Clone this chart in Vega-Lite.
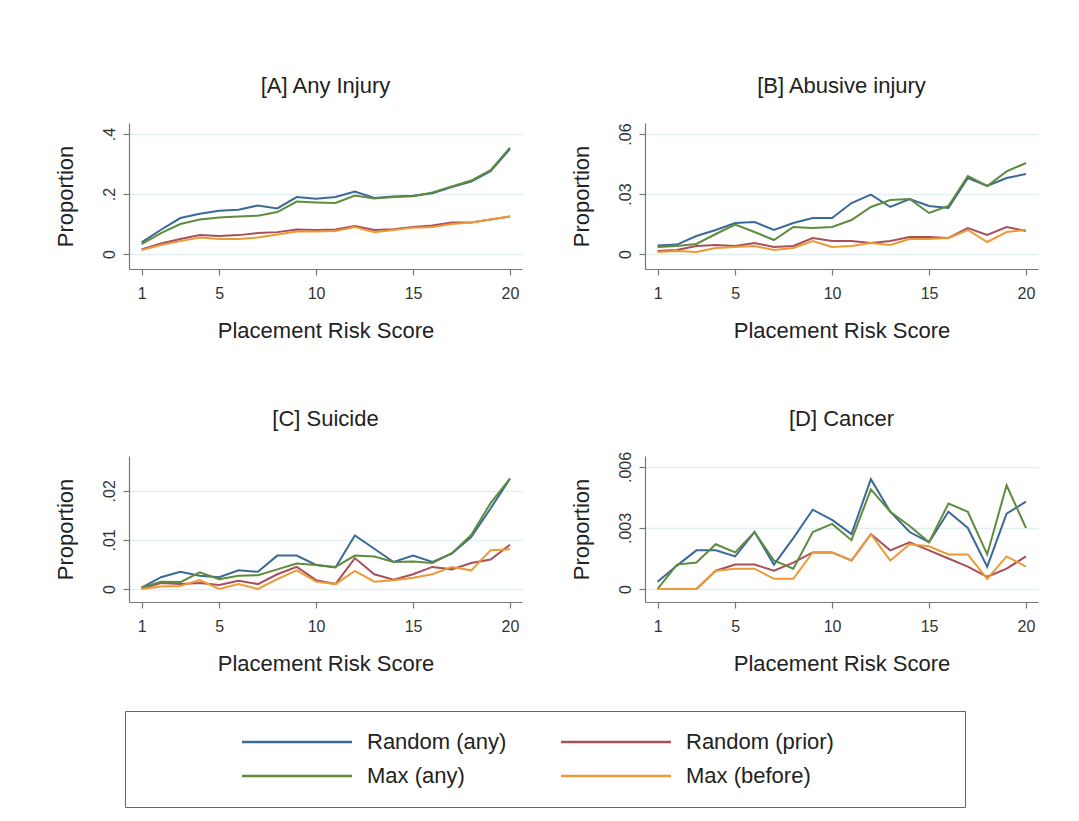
{
  "$schema": "https://vega.github.io/schema/vega-lite/v6.json",
  "padding": {"left": 54, "top": 74, "right": 5, "bottom": 5},
  "background": "white",
  "datasets": {
    "d": [
      {"p":"A","s":1,"Random (any)":0.039,"Random (prior)":0.015,"Max (any)":0.033,"Max (before)":0.013},
      {"p":"A","s":2,"Random (any)":0.081,"Random (prior)":0.035,"Max (any)":0.07,"Max (before)":0.03},
      {"p":"A","s":3,"Random (any)":0.12,"Random (prior)":0.05,"Max (any)":0.1,"Max (before)":0.043},
      {"p":"A","s":4,"Random (any)":0.134,"Random (prior)":0.063,"Max (any)":0.115,"Max (before)":0.055},
      {"p":"A","s":5,"Random (any)":0.144,"Random (prior)":0.06,"Max (any)":0.122,"Max (before)":0.05},
      {"p":"A","s":6,"Random (any)":0.148,"Random (prior)":0.063,"Max (any)":0.125,"Max (before)":0.05},
      {"p":"A","s":7,"Random (any)":0.162,"Random (prior)":0.07,"Max (any)":0.128,"Max (before)":0.055},
      {"p":"A","s":8,"Random (any)":0.152,"Random (prior)":0.073,"Max (any)":0.14,"Max (before)":0.065},
      {"p":"A","s":9,"Random (any)":0.19,"Random (prior)":0.082,"Max (any)":0.175,"Max (before)":0.075},
      {"p":"A","s":10,"Random (any)":0.184,"Random (prior)":0.08,"Max (any)":0.172,"Max (before)":0.075},
      {"p":"A","s":11,"Random (any)":0.19,"Random (prior)":0.082,"Max (any)":0.17,"Max (before)":0.077},
      {"p":"A","s":12,"Random (any)":0.208,"Random (prior)":0.093,"Max (any)":0.195,"Max (before)":0.09},
      {"p":"A","s":13,"Random (any)":0.187,"Random (prior)":0.08,"Max (any)":0.185,"Max (before)":0.073},
      {"p":"A","s":14,"Random (any)":0.192,"Random (prior)":0.083,"Max (any)":0.19,"Max (before)":0.08},
      {"p":"A","s":15,"Random (any)":0.194,"Random (prior)":0.09,"Max (any)":0.193,"Max (before)":0.088},
      {"p":"A","s":16,"Random (any)":0.203,"Random (prior)":0.095,"Max (any)":0.205,"Max (before)":0.09},
      {"p":"A","s":17,"Random (any)":0.223,"Random (prior)":0.105,"Max (any)":0.225,"Max (before)":0.1},
      {"p":"A","s":18,"Random (any)":0.242,"Random (prior)":0.105,"Max (any)":0.245,"Max (before)":0.105},
      {"p":"A","s":19,"Random (any)":0.276,"Random (prior)":0.115,"Max (any)":0.28,"Max (before)":0.115},
      {"p":"A","s":20,"Random (any)":0.35,"Random (prior)":0.125,"Max (any)":0.355,"Max (before)":0.125},
      {"p":"B","s":1,"Random (any)":0.0042,"Random (prior)":0.0015,"Max (any)":0.0035,"Max (before)":0.001},
      {"p":"B","s":2,"Random (any)":0.0047,"Random (prior)":0.002,"Max (any)":0.004,"Max (before)":0.0015},
      {"p":"B","s":3,"Random (any)":0.009,"Random (prior)":0.004,"Max (any)":0.005,"Max (before)":0.001},
      {"p":"B","s":4,"Random (any)":0.012,"Random (prior)":0.0045,"Max (any)":0.01,"Max (before)":0.003},
      {"p":"B","s":5,"Random (any)":0.0155,"Random (prior)":0.004,"Max (any)":0.0147,"Max (before)":0.0035},
      {"p":"B","s":6,"Random (any)":0.016,"Random (prior)":0.0055,"Max (any)":0.011,"Max (before)":0.004},
      {"p":"B","s":7,"Random (any)":0.012,"Random (prior)":0.0035,"Max (any)":0.007,"Max (before)":0.002},
      {"p":"B","s":8,"Random (any)":0.0155,"Random (prior)":0.004,"Max (any)":0.0135,"Max (before)":0.003},
      {"p":"B","s":9,"Random (any)":0.018,"Random (prior)":0.008,"Max (any)":0.013,"Max (before)":0.0065},
      {"p":"B","s":10,"Random (any)":0.018,"Random (prior)":0.0065,"Max (any)":0.0135,"Max (before)":0.0035},
      {"p":"B","s":11,"Random (any)":0.0255,"Random (prior)":0.0065,"Max (any)":0.017,"Max (before)":0.004},
      {"p":"B","s":12,"Random (any)":0.0297,"Random (prior)":0.0055,"Max (any)":0.0235,"Max (before)":0.0055},
      {"p":"B","s":13,"Random (any)":0.0235,"Random (prior)":0.0065,"Max (any)":0.027,"Max (before)":0.0045},
      {"p":"B","s":14,"Random (any)":0.0275,"Random (prior)":0.0085,"Max (any)":0.0275,"Max (before)":0.0075},
      {"p":"B","s":15,"Random (any)":0.024,"Random (prior)":0.0085,"Max (any)":0.0205,"Max (before)":0.0075},
      {"p":"B","s":16,"Random (any)":0.023,"Random (prior)":0.008,"Max (any)":0.024,"Max (before)":0.008},
      {"p":"B","s":17,"Random (any)":0.038,"Random (prior)":0.013,"Max (any)":0.039,"Max (before)":0.012},
      {"p":"B","s":18,"Random (any)":0.034,"Random (prior)":0.0095,"Max (any)":0.034,"Max (before)":0.006},
      {"p":"B","s":19,"Random (any)":0.038,"Random (prior)":0.0135,"Max (any)":0.0413,"Max (before)":0.011},
      {"p":"B","s":20,"Random (any)":0.04,"Random (prior)":0.0115,"Max (any)":0.0455,"Max (before)":0.012},
      {"p":"C","s":1,"Random (any)":0.0003,"Random (prior)":0.0001,"Max (any)":0.0003,"Max (before)":0.0},
      {"p":"C","s":2,"Random (any)":0.0024,"Random (prior)":0.0012,"Max (any)":0.0015,"Max (before)":0.0005},
      {"p":"C","s":3,"Random (any)":0.0035,"Random (prior)":0.001,"Max (any)":0.0014,"Max (before)":0.0006},
      {"p":"C","s":4,"Random (any)":0.0027,"Random (prior)":0.0012,"Max (any)":0.0034,"Max (before)":0.0018},
      {"p":"C","s":5,"Random (any)":0.0024,"Random (prior)":0.0008,"Max (any)":0.002,"Max (before)":0.0},
      {"p":"C","s":6,"Random (any)":0.0038,"Random (prior)":0.0017,"Max (any)":0.0027,"Max (before)":0.001},
      {"p":"C","s":7,"Random (any)":0.0035,"Random (prior)":0.001,"Max (any)":0.0028,"Max (before)":0.0},
      {"p":"C","s":8,"Random (any)":0.0068,"Random (prior)":0.003,"Max (any)":0.004,"Max (before)":0.002},
      {"p":"C","s":9,"Random (any)":0.0068,"Random (prior)":0.0045,"Max (any)":0.0052,"Max (before)":0.0038},
      {"p":"C","s":10,"Random (any)":0.0049,"Random (prior)":0.0018,"Max (any)":0.0049,"Max (before)":0.0015},
      {"p":"C","s":11,"Random (any)":0.0044,"Random (prior)":0.001,"Max (any)":0.0045,"Max (before)":0.001},
      {"p":"C","s":12,"Random (any)":0.0109,"Random (prior)":0.0063,"Max (any)":0.0068,"Max (before)":0.0037},
      {"p":"C","s":13,"Random (any)":0.0082,"Random (prior)":0.003,"Max (any)":0.0066,"Max (before)":0.0015},
      {"p":"C","s":14,"Random (any)":0.0055,"Random (prior)":0.0019,"Max (any)":0.0055,"Max (before)":0.0018},
      {"p":"C","s":15,"Random (any)":0.0068,"Random (prior)":0.003,"Max (any)":0.0056,"Max (before)":0.0023},
      {"p":"C","s":16,"Random (any)":0.0055,"Random (prior)":0.0045,"Max (any)":0.0053,"Max (before)":0.003},
      {"p":"C","s":17,"Random (any)":0.0072,"Random (prior)":0.004,"Max (any)":0.0073,"Max (before)":0.0045},
      {"p":"C","s":18,"Random (any)":0.0106,"Random (prior)":0.0053,"Max (any)":0.011,"Max (before)":0.0038},
      {"p":"C","s":19,"Random (any)":0.0164,"Random (prior)":0.006,"Max (any)":0.0175,"Max (before)":0.0079},
      {"p":"C","s":20,"Random (any)":0.0225,"Random (prior)":0.009,"Max (any)":0.0225,"Max (before)":0.0081},
      {"p":"D","s":1,"Random (any)":0.00036,"Random (prior)":0.0,"Max (any)":0.0,"Max (before)":0.0},
      {"p":"D","s":2,"Random (any)":0.00115,"Random (prior)":0.0,"Max (any)":0.0012,"Max (before)":0.0},
      {"p":"D","s":3,"Random (any)":0.0019,"Random (prior)":0.0,"Max (any)":0.0013,"Max (before)":0.0},
      {"p":"D","s":4,"Random (any)":0.0019,"Random (prior)":0.0009,"Max (any)":0.0022,"Max (before)":0.0009},
      {"p":"D","s":5,"Random (any)":0.0016,"Random (prior)":0.0012,"Max (any)":0.0018,"Max (before)":0.001},
      {"p":"D","s":6,"Random (any)":0.0028,"Random (prior)":0.0012,"Max (any)":0.0028,"Max (before)":0.001},
      {"p":"D","s":7,"Random (any)":0.0012,"Random (prior)":0.0009,"Max (any)":0.0014,"Max (before)":0.0005},
      {"p":"D","s":8,"Random (any)":0.0025,"Random (prior)":0.0013,"Max (any)":0.001,"Max (before)":0.0005},
      {"p":"D","s":9,"Random (any)":0.0039,"Random (prior)":0.0018,"Max (any)":0.0028,"Max (before)":0.0018},
      {"p":"D","s":10,"Random (any)":0.0034,"Random (prior)":0.0018,"Max (any)":0.0032,"Max (before)":0.0018},
      {"p":"D","s":11,"Random (any)":0.0027,"Random (prior)":0.0014,"Max (any)":0.0024,"Max (before)":0.0014},
      {"p":"D","s":12,"Random (any)":0.0054,"Random (prior)":0.0027,"Max (any)":0.0049,"Max (before)":0.0027},
      {"p":"D","s":13,"Random (any)":0.0038,"Random (prior)":0.0019,"Max (any)":0.0038,"Max (before)":0.0014},
      {"p":"D","s":14,"Random (any)":0.0028,"Random (prior)":0.0023,"Max (any)":0.0031,"Max (before)":0.0022},
      {"p":"D","s":15,"Random (any)":0.0023,"Random (prior)":0.0019,"Max (any)":0.0023,"Max (before)":0.0021},
      {"p":"D","s":16,"Random (any)":0.0038,"Random (prior)":0.0015,"Max (any)":0.0042,"Max (before)":0.0017},
      {"p":"D","s":17,"Random (any)":0.003,"Random (prior)":0.0011,"Max (any)":0.0038,"Max (before)":0.0017},
      {"p":"D","s":18,"Random (any)":0.0011,"Random (prior)":0.0006,"Max (any)":0.0017,"Max (before)":0.0005},
      {"p":"D","s":19,"Random (any)":0.0037,"Random (prior)":0.001,"Max (any)":0.0051,"Max (before)":0.0016},
      {"p":"D","s":20,"Random (any)":0.0043,"Random (prior)":0.0016,"Max (any)":0.003,"Max (before)":0.0011}
    ]
  },
  "data": {"name": "d"},
  "transform": [
    {"fold": ["Random (any)", "Random (prior)", "Max (any)", "Max (before)"], "as": ["series", "value"]}
  ],
  "columns": 2,
  "spacing": {"row": 67, "column": 48},
  "resolve": {"scale": {"color": "shared", "x": "independent", "y": "independent"}},
  "concat": [
    {
      "title": "[A] Any Injury",
      "width": 393, "height": 146,
      "transform": [{"filter": "datum.p == 'A'"}],
      "mark": {"type": "line", "strokeWidth": 2},
      "encoding": {
        "x": {"field": "s", "type": "quantitative", "scale": {"domain": [0.35, 20.62], "nice": false, "zero": false}, "axis": {"values": [1, 5, 10, 15, 20], "title": "Placement Risk Score", "grid": false}},
        "y": {"field": "value", "type": "quantitative", "scale": {"domain": [-0.05, 0.437], "nice": false, "zero": false}, "axis": {"values": [0, 0.2, 0.4], "title": "Proportion", "labelExpr": "datum.value == 0 ? '0' : substring(toString(datum.value), 1)"}},
        "color": {"field": "series", "type": "nominal", "sort": ["Random (any)", "Random (prior)", "Max (any)", "Max (before)"]}
      }
    },
    {
      "title": "[B] Abusive injury",
      "width": 393, "height": 146,
      "transform": [{"filter": "datum.p == 'B'"}],
      "mark": {"type": "line", "strokeWidth": 2},
      "encoding": {
        "x": {"field": "s", "type": "quantitative", "scale": {"domain": [0.35, 20.62], "nice": false, "zero": false}, "axis": {"values": [1, 5, 10, 15, 20], "title": "Placement Risk Score", "grid": false}},
        "y": {"field": "value", "type": "quantitative", "scale": {"domain": [-0.0075, 0.0655], "nice": false, "zero": false}, "axis": {"values": [0, 0.03, 0.06], "title": "Proportion", "labelExpr": "datum.value == 0 ? '0' : substring(toString(datum.value), 1)"}},
        "color": {"field": "series", "type": "nominal", "sort": ["Random (any)", "Random (prior)", "Max (any)", "Max (before)"]}
      }
    },
    {
      "title": "[C] Suicide",
      "width": 393, "height": 146,
      "transform": [{"filter": "datum.p == 'C'"}],
      "mark": {"type": "line", "strokeWidth": 2},
      "encoding": {
        "x": {"field": "s", "type": "quantitative", "scale": {"domain": [0.35, 20.62], "nice": false, "zero": false}, "axis": {"values": [1, 5, 10, 15, 20], "title": "Placement Risk Score", "grid": false}},
        "y": {"field": "value", "type": "quantitative", "scale": {"domain": [-0.00265, 0.0271], "nice": false, "zero": false}, "axis": {"values": [0, 0.01, 0.02], "title": "Proportion", "labelExpr": "datum.value == 0 ? '0' : substring(toString(datum.value), 1)"}},
        "color": {"field": "series", "type": "nominal", "sort": ["Random (any)", "Random (prior)", "Max (any)", "Max (before)"]}
      }
    },
    {
      "title": {"text": "[D] Cancer", "offset": 20},
      "width": 393, "height": 146,
      "transform": [{"filter": "datum.p == 'D'"}],
      "mark": {"type": "line", "strokeWidth": 2},
      "encoding": {
        "x": {"field": "s", "type": "quantitative", "scale": {"domain": [0.35, 20.62], "nice": false, "zero": false}, "axis": {"values": [1, 5, 10, 15, 20], "title": "Placement Risk Score", "grid": false}},
        "y": {"field": "value", "type": "quantitative", "scale": {"domain": [-0.00064, 0.00654], "nice": false, "zero": false}, "axis": {"values": [0, 0.003, 0.006], "title": "Proportion", "labelExpr": "datum.value == 0 ? '0' : substring(toString(datum.value), 1)"}},
        "color": {
          "field": "series", "type": "nominal",
          "sort": ["Random (any)", "Random (prior)", "Max (any)", "Max (before)"],
          "scale": {"domain": ["Random (any)", "Random (prior)", "Max (any)", "Max (before)"], "range": ["#3b6a96", "#a8505a", "#5e8c3c", "#ec9a35"]},
          "legend": {
            "orient": "none", "legendX": -4, "legendY": 588,
            "columns": 2, "direction": "horizontal",
            "title": "\u00a0", "titleOrient": "left", "titlePadding": 97,
            "symbolType": "M-11,0H11", "symbolSize": 100, "symbolStrokeWidth": 2.5,
            "symbolOffset": 0, "labelOffset": 15, "columnPadding": 49, "rowPadding": 12,
            "labelFontSize": 22, "labelFont": "Liberation Sans", "labelColor": "#222", "labelLimit": 400,
            "padding": 20, "strokeColor": "#666", "fillColor": "white",
            "encode": {
              "symbols": {"update": {"x": {"value": 55}}},
              "labels": {"update": {"x": {"value": 125}}},
              "entries": {"update": {"noBound": {"value": false}, "width": {"signal": "datum.index % 2 == 1 ? 384 : 0"}}}
            }
          }
        }
      }
    }
  ],
  "config": {
    "font": "Liberation Sans",
    "view": {"stroke": null},
    "title": {"fontSize": 22, "fontWeight": "normal", "color": "#222", "offset": 25, "anchor": "middle"},
    "axis": {
      "labelFontSize": 16, "titleFontSize": 22, "titleFontWeight": "normal",
      "labelColor": "#333", "titleColor": "#222",
      "domainColor": "#777", "tickColor": "#777", "tickSize": 6, "domainWidth": 1.2, "tickWidth": 1.2
    },
    "axisX": {"labelPadding": 10, "titlePadding": 19},
    "axisY": {"labelAngle": -90, "labelPadding": 6, "titlePadding": 24, "grid": true, "gridColor": "#e4eff2", "gridWidth": 1.5}
  }
}
